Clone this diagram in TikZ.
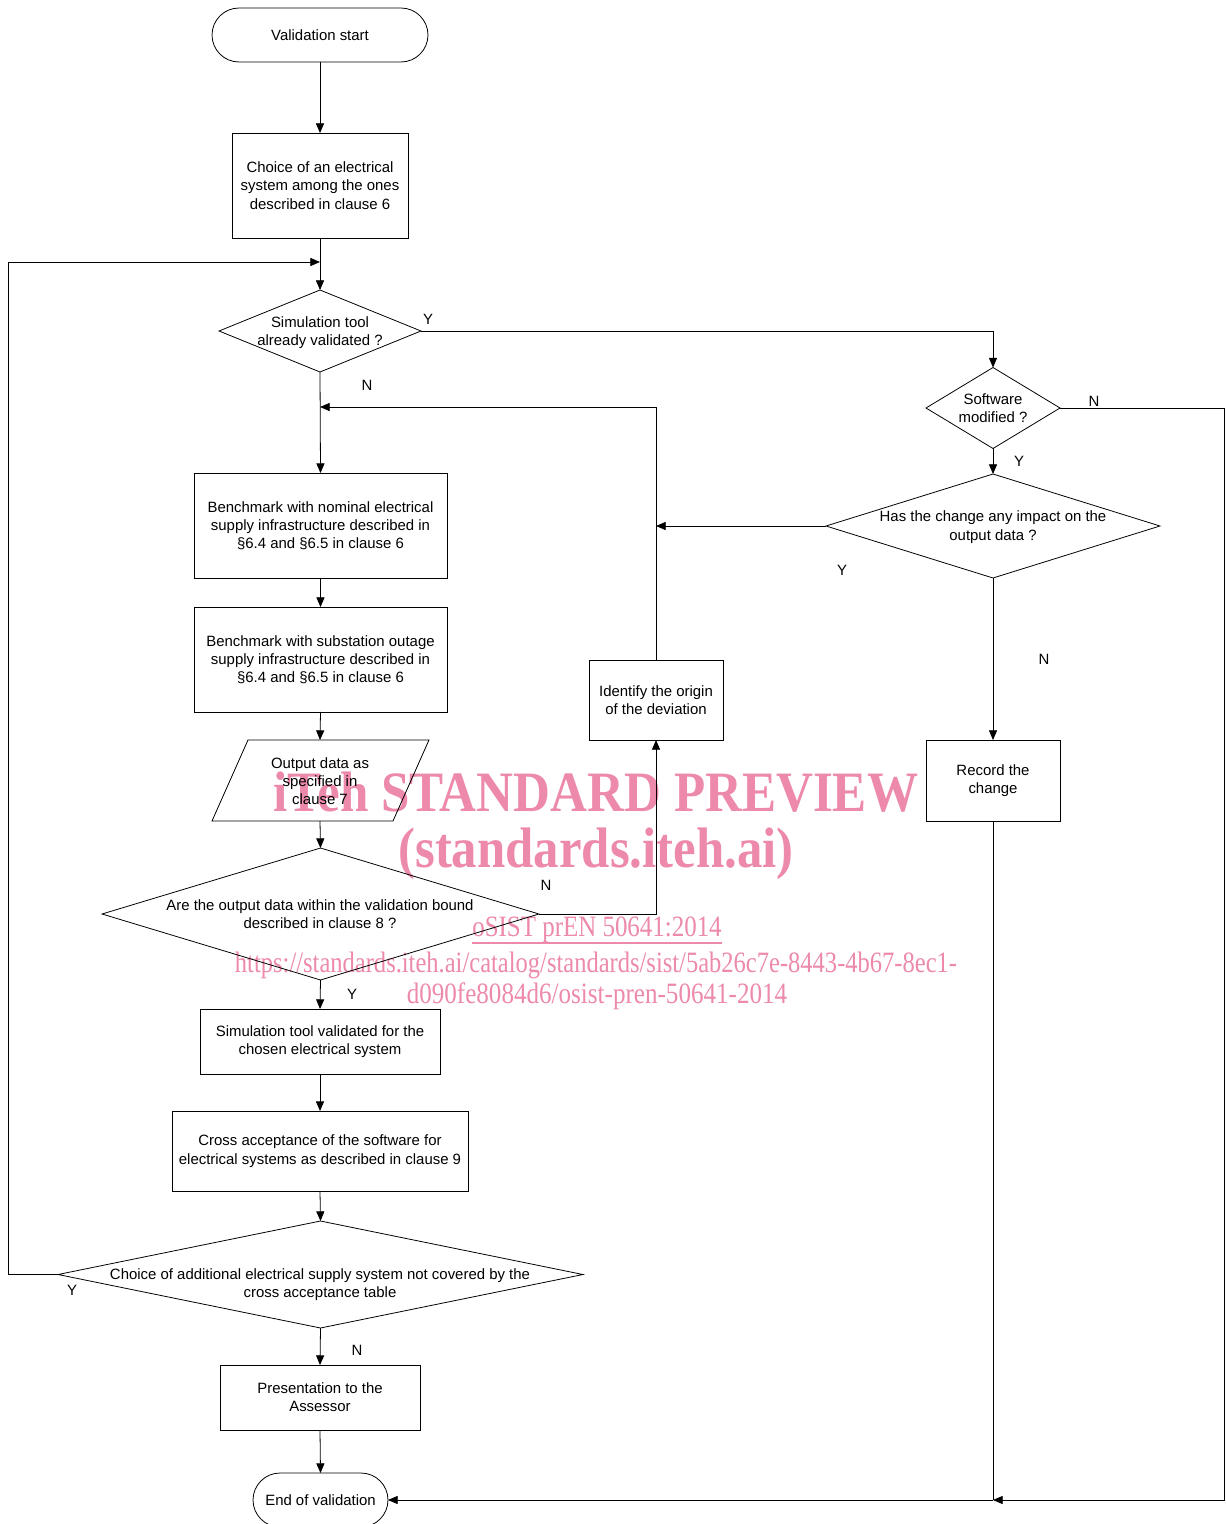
\documentclass[tikz,border=0pt]{standalone}
\usepackage{fontspec}
\setmainfont{Liberation Sans}
\newfontfamily\wmfont{Liberation Serif}
\usetikzlibrary{shapes.geometric,arrows.meta}
\definecolor{wmpink}{RGB}{237,137,170}
\begin{document}
\begin{tikzpicture}[x=0.02cm,y=-0.02cm,
 base/.style={font=\fontsize{8.5}{10.4}\selectfont, line width=0.45pt, inner sep=0pt, outer sep=0pt},
 box/.style={base, draw, rectangle, align=center},
 term/.style={base, draw, rectangle, rounded corners=0.54cm, align=center},
 dia/.style={base, draw, diamond},
 txt/.style={base, align=center},
 yn/.style={base},
 arr/.style={line width=0.45pt, -{Triangle[length=5.5pt,width=4.6pt]}},
 ln/.style={line width=0.45pt},
 wm/.style={text=wmpink, inner sep=0pt, outer sep=0pt}
]
\clip (0,0) rectangle (1225,1524);
\fill[white] (0,0) rectangle (1225,1524);

% watermark (beneath)
\node[wm] (wm1) at (596,792) {\wmfont\bfseries\fontsize{32.5}{36}\selectfont\scalebox{0.895}[1]{iTeh STANDARD PREVIEW}};
\node[wm] (wm2) at (596,854) {\wmfont\bfseries\fontsize{32.5}{36}\selectfont\scalebox{0.89}[1]{(standards.iteh.ai)}};
\node[wm] (wm3) at (597,930) {\wmfont\fontsize{16.8}{19}\selectfont\scalebox{0.845}[1]{oSIST prEN 50641:2014}};
\draw[wmpink, line width=0.7pt] (472,943) -- (722,943);
\node[wm] (wm4) at (596,965) {\wmfont\fontsize{16.8}{19}\selectfont\scalebox{0.831}[1]{https://standards.iteh.ai/catalog/standards/sist/5ab26c7e-8443-4b67-8ec1-}};
\node[wm] (wm5) at (597,996) {\wmfont\fontsize{16.8}{19}\selectfont\scalebox{0.85}[1]{d090fe8084d6/osist-pren-50641-2014}};

% left column
\node[term, minimum width=4.32cm, minimum height=1.08cm] (start) at (320,35) {Validation start};
\node[box, minimum width=3.52cm, minimum height=2.1cm] (choice) at (320,185.5) {Choice of an electrical\\system among the ones\\described in clause 6};
\node[dia, minimum width=4.04cm, minimum height=1.64cm] (d1) at (320,331) {};
\node[txt] (d1t) at (320,332.5) {Simulation tool\\already validated ?};
\node[box, minimum width=5.06cm, minimum height=2.1cm] (b1) at (320.5,525.5) {Benchmark with nominal electrical\\supply infrastructure described in\\§6.4 and §6.5 in clause 6};
\node[box, minimum width=5.06cm, minimum height=2.1cm] (b2) at (320.5,659.5) {Benchmark with substation outage\\supply infrastructure described in\\§6.4 and §6.5 in clause 6};
\node[base, minimum width=4.34cm, minimum height=1.62cm] (par) at (320,780.5) {};
\draw[ln] (248,740) -- (429,740) -- (393,821) -- (212,821) -- cycle;
\node[txt] (part) at (320,781) {Output data as\\specified in\\clause 7};
\node[dia, minimum width=8.74cm, minimum height=2.64cm] (d5) at (320.5,914) {};
\node[txt] (d5t) at (320,914) {Are the output data within the validation bound\\described in clause 8 ?};
\node[box, minimum width=4.8cm, minimum height=1.3cm] (simval) at (320,1041.5) {Simulation tool validated for the\\chosen electrical system};
\node[box, minimum width=5.92cm, minimum height=1.6cm] (cross) at (320,1151) {Cross acceptance of the software for\\electrical systems as described in clause 9};
\node[dia, minimum width=10.5cm, minimum height=2.14cm] (d6) at (320.5,1274.5) {};
\node[txt] (d6t) at (320,1284.5) {Choice of additional electrical supply system not covered by the\\cross acceptance table};
\node[box, minimum width=4.0cm, minimum height=1.3cm] (pres) at (320,1397.5) {Presentation to the\\Assessor};
\node[term, minimum width=2.7cm, minimum height=1.08cm] (end) at (320.5,1500) {End of validation};

% middle and right
\node[box, minimum width=2.68cm, minimum height=1.6cm] (ident) at (656,700) {Identify the origin\\of the deviation};
\node[dia, minimum width=2.68cm, minimum height=1.62cm] (d2) at (993,408) {};
\node[txt] (d2t) at (993,408) {Software\\modified ?};
\node[dia, minimum width=6.68cm, minimum height=2.08cm] (d3) at (993,526) {};
\node[txt] (d3t) at (993,527) {Has the change any impact on the\\output data ?};
\node[box, minimum width=2.68cm, minimum height=1.62cm] (record) at (993,780.5) {Record the\\change};

% junction coordinates
\coordinate (j1) at (320,262);
\coordinate (lc) at (8,262);
\coordinate (j2) at (320,407);
\coordinate (j3) at (656,526);
\coordinate (j4) at (993,1500);
\coordinate (rc) at (1224,1500);

% connectors
\draw[arr] (start) -- (choice);
\draw[ln] (choice) -- (j1);
\draw[arr] (j1) -- (d1.north);
\draw[arr] (d6.west) -| (lc) -- (j1);
\draw[arr] (d1.east) -| (d2.north);
\draw[arr] (d1.south) -- (b1.north);
\draw[arr] (ident.north) |- (j2);
\draw[arr] (d2.south) -- (d3.north);
\draw[arr] (d3.west) -- (j3);
\draw[arr] (d3.south) -- (record.north);
\draw[ln] (record.south) -- (j4);
\draw[arr] (d2.east) -| (rc) -- (j4);
\draw[arr] (j4) -- (end.east);
\draw[arr] (b1.south) -- (b2.north);
\draw[arr] (b2.south) -- (par.north);
\draw[arr] (par.south) -- (d5.north);
\draw[arr] (d5.east) -| (ident.south);
\draw[arr] (d5.south) -- (simval.north);
\draw[arr] (simval.south) -- (cross.north);
\draw[arr] (cross.south) -- (d6.north);
\draw[arr] (d6.south) -- (pres.north);
\draw[arr] (pres.south) -- (end.north);

% Y/N labels
\node[yn] (l1) at (428,319) {Y};
\node[yn] (l2) at (367,385) {N};
\node[yn] (l3) at (1094,401) {N};
\node[yn] (l4) at (1019,461) {Y};
\node[yn] (l5) at (842,570) {Y};
\node[yn] (l6) at (1044,659) {N};
\node[yn] (l7) at (546,885) {N};
\node[yn] (l8) at (352,994) {Y};
\node[yn] (l9) at (72,1290) {Y};
\node[yn] (l10) at (357,1350) {N};
\end{tikzpicture}
\end{document}
